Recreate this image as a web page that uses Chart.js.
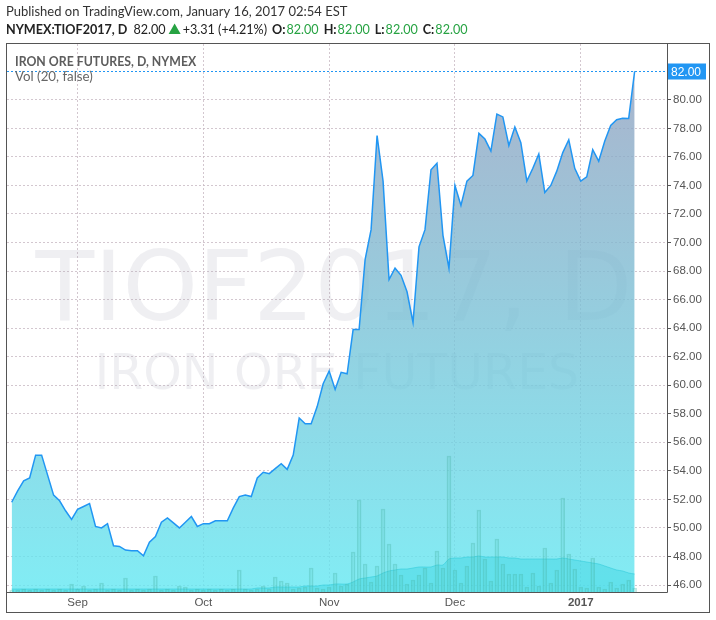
<!DOCTYPE html>
<html>
<head>
<meta charset="utf-8">
<script src="https://cdn.jsdelivr.net/npm/chart.js@4.4.0/dist/chart.umd.min.js"></script>
<style>
  html, body { margin: 0; padding: 0; background: #fff; }
  #wrap { width: 716px; height: 620px; }
</style>
</head>
<body>
<div id="wrap"><canvas id="myChart" width="716" height="620"></canvas></div>
<script>
// daily closes, Aug 17 2016 -> Jan 13 2017 (one value per trading day)
const price = [
  51.8, 52.6, 53.3, 53.5, 55.1, 55.1, 53.7, 52.3, 51.9, 51.2,
  50.6, 51.3, 51.5, 51.7, 50.1, 50.0, 50.3, 48.75, 48.7, 48.45,
  48.4, 48.4, 48.05, 49.0, 49.4, 50.4, 50.7, 50.35, 50.0, 50.4,
  50.8, 50.1, 50.3, 50.3, 50.5, 50.5, 50.5, 51.4, 52.2, 52.3,
  52.2, 53.5, 53.9, 53.8, 54.15, 54.5, 54.1, 55.1, 57.7, 57.3,
  57.3, 58.5, 60.1, 61.0, 59.7, 60.9, 60.8, 63.9, 63.9, 68.8,
  70.9, 77.5, 74.3, 67.4, 68.2, 67.7, 66.55, 64.4, 69.7, 70.9,
  75.1, 75.55, 70.5, 68.2, 74.0, 72.6, 74.3, 74.7, 77.65, 77.25,
  76.4, 79.0, 78.8, 76.8, 78.1, 77.0, 74.3, 75.2, 76.2, 73.5,
  74.0, 75.0, 76.3, 77.2, 75.2, 74.3, 74.6, 76.5, 75.7, 77.1,
  78.2, 78.6, 78.7, 78.69, 82.0
];

const volume = [
  2, 2, 3, 2, 3, 2, 3, 2, 3, 2,
  8, 3, 6, 2, 3, 9, 2, 3, 2, 14,
  2, 3, 2, 3, 16, 2, 3, 2, 6, 5,
  2, 3, 2, 3, 2, 3, 2, 3, 22, 3,
  2, 3, 6, 3, 15, 11, 9, 3, 4, 5,
  24, 4, 3, 5, 19, 6, 8, 40, 92, 28,
  10, 26, 83, 48, 28, 17, 8, 12, 17, 24,
  9, 41, 24, 136, 22, 9, 26, 49, 82, 33,
  11, 53, 28, 18, 18, 18, 5, 19, 6, 44,
  9, 22, 94, 38, 23, 5, 4, 34, 5, 3,
  10, 4, 8, 12, 4
];

// Vol (20) moving average
const volumeMA = [
  3, 3, 3, 3, 3, 3, 3, 3, 3, 3,
  3, 3, 3, 3, 3, 3, 3, 3, 3, 3,
  3, 3, 3, 3, 3, 3, 3, 3, 3, 3,
  3, 3, 3, 3, 3, 3, 3, 3, 3, 3,
  3, 4, 4, 4, 5, 5, 5, 5, 5, 6,
  6, 6, 7, 7, 8, 8, 8, 10, 13, 14,
  15, 16, 19, 21, 22, 23, 23, 24, 25, 25,
  25, 27, 27, 33, 34, 34, 35, 35, 36, 35,
  35, 35, 35, 34, 34, 33, 33, 33, 33, 33,
  33, 33, 34, 33, 32, 31, 30, 29, 28, 26,
  24, 22, 21, 19, 18
];

const monthTickIndex = [11, 32, 53, 74, 95];
const monthLabels = ['Sep', 'Oct', 'Nov', 'Dec', '2017'];
const priceTicks = [46, 48, 50, 52, 54, 56, 58, 60, 62, 64, 66, 68, 70, 72, 74, 76, 78, 80, 82];

const AXIS_FONT = '"Liberation Sans", Arial, sans-serif';
const UI_FONT = 'Lato, "Open Sans", sans-serif';
const GREEN = '#27a343';
const BLUE = '#2196f3';

Chart.defaults.font.family = AXIS_FONT;

const watermark = {
  id: 'watermark',
  beforeDatasetsDraw(chart) {
    const { ctx, chartArea: a } = chart;
    const cx = (a.left + a.right) / 2;
    ctx.save();
    ctx.beginPath();
    ctx.rect(a.left, a.top, a.right - a.left, a.bottom - a.top);
    ctx.clip();
    ctx.fillStyle = 'rgba(160,160,175,0.17)';
    ctx.textAlign = 'center';
    ctx.textBaseline = 'alphabetic';
    ctx.font = '96px "DejaVu Sans"';
    ctx.fillText('TIOF2017, D', cx - 3, 320);
    ctx.font = '49px "DejaVu Sans"';
    ctx.fillText('IRON ORE FUTURES', cx, 389);
    ctx.restore();
  }
};

const overlay = {
  id: 'overlay',
  afterDraw(chart) {
    const { ctx, chartArea: a, scales } = chart;
    const y = scales.y;
    ctx.save();

    // last price marker
    const last = price[price.length - 1];
    const py = Math.round(y.getPixelForValue(last)) + 0.5;
    ctx.strokeStyle = BLUE;
    ctx.lineWidth = 1;
    ctx.setLineDash([2, 2]);
    ctx.beginPath();
    ctx.moveTo(a.left, py);
    ctx.lineTo(a.right, py);
    ctx.stroke();
    ctx.setLineDash([]);
    ctx.fillStyle = BLUE;
    ctx.fillRect(a.right + 1, py - 8, 38, 16);
    ctx.fillStyle = '#fff';
    ctx.font = '12px ' + AXIS_FONT;
    ctx.textAlign = 'left';
    ctx.textBaseline = 'middle';
    ctx.fillText(last.toFixed(2), a.right + 4, py + 1);

    // frame
    ctx.strokeStyle = '#555';
    ctx.lineWidth = 1;
    ctx.strokeRect(6.5, 43.5, 703, 569);
    ctx.beginPath();
    ctx.moveTo(a.right + 0.5, 43.5);
    ctx.lineTo(a.right + 0.5, a.bottom + 0.5);
    ctx.moveTo(6.5, a.bottom + 0.5);
    ctx.lineTo(a.right + 0.5, a.bottom + 0.5);
    ctx.stroke();

    // inner labels
    ctx.textBaseline = 'alphabetic';
    ctx.fillStyle = '#5d5d5d';
    ctx.font = 'bold 12.3px ' + UI_FONT;
    ctx.fillText('IRON ORE FUTURES, D, NYMEX', 15, 66);
    ctx.font = '13.3px ' + UI_FONT;
    ctx.fillStyle = '#666';
    ctx.fillText('Vol (20, false)', 15, 81);

    // header
    ctx.fillStyle = '#333';
    ctx.font = '13px ' + UI_FONT;
    ctx.fillText('Published on TradingView.com, January 16, 2017 02:54 EST', 6, 16);

    const base = 34;
    let x = 6;
    const run = (txt, bold, color, gap) => {
      ctx.font = (bold ? 'bold ' : '') + '12.6px ' + UI_FONT;
      ctx.fillStyle = color;
      ctx.fillText(txt, x, base);
      x += ctx.measureText(txt).width + gap;
    };
    run('NYMEX:TIOF2017, D', true, '#222', 6);
    run(last.toFixed(2), false, '#222', 3);
    ctx.fillStyle = GREEN;
    ctx.beginPath();
    ctx.moveTo(x + 6, 23.5);
    ctx.lineTo(x + 12, 34);
    ctx.lineTo(x, 34);
    ctx.closePath();
    ctx.fill();
    x += 14;
    run('+3.31 (+4.21%)', false, '#222', 5);
    ['O:', 'H:', 'L:', 'C:'].forEach(k => {
      run(k, true, '#222', 1);
      run(last.toFixed(2), false, GREEN, 5);
    });

    ctx.restore();
  }
};

const ctx = document.getElementById('myChart');

new Chart(ctx, {
  data: {
    datasets: [
      {
        type: 'line',
        label: 'TIOF2017',
        data: price.map((v, i) => ({ x: i, y: v })),
        borderColor: BLUE,
        borderWidth: 1.5,
        pointRadius: 0,
        tension: 0,
        fill: 'start',
        backgroundColor(c) {
          const a = c.chart.chartArea;
          if (!a) return 'rgba(120,200,220,0.8)';
          const g = c.chart.ctx.createLinearGradient(0, a.top, 0, a.bottom);
          g.addColorStop(0, 'rgba(150,158,190,0.8)');
          g.addColorStop(0.45, 'rgba(125,190,212,0.8)');
          g.addColorStop(1, 'rgba(98,232,242,0.8)');
          return g;
        },
        yAxisID: 'y',
        order: 3
      },
      {
        type: 'line',
        label: 'Vol MA',
        data: volumeMA.map((v, i) => ({ x: i, y: v })),
        borderColor: 'rgba(40,200,215,0.5)',
        borderWidth: 1,
        pointRadius: 0,
        tension: 0.3,
        fill: 'start',
        backgroundColor: 'rgba(40,205,222,0.35)',
        yAxisID: 'yv',
        order: 2
      },
      {
        type: 'bar',
        label: 'Vol',
        data: volume.map((v, i) => ({ x: i, y: v })),
        backgroundColor: 'rgba(80,195,180,0.1)',
        borderColor: 'rgba(70,175,160,0.33)',
        borderWidth: 1,
        barThickness: 4,
        yAxisID: 'yv',
        order: 1
      }
    ]
  },
  options: {
    responsive: false,
    animation: false,
    devicePixelRatio: 1,
    layout: { padding: { left: 7, top: 44, right: 7, bottom: 7 } },
    plugins: { legend: { display: false }, tooltip: { enabled: false } },
    scales: {
      x: {
        type: 'linear',
        min: -0.78,
        max: 109.4,
        offset: false,
        afterBuildTicks(scale) {
          scale.ticks = monthTickIndex.map(v => ({ value: v }));
        },
        afterFit(scale) { scale.height = 21; },
        ticks: {
          autoSkip: false,
          maxRotation: 0,
          padding: 4,
          color: '#555',
          font(c) {
            return { size: 11.5, weight: c.tick && c.tick.label === '2017' ? 'bold' : 'normal' };
          },
          callback: (v, i) => monthLabels[i]
        },
        grid: { color: 'rgba(200,185,195,0.8)', drawTicks: false, offset: false },
        border: { display: false, dash: [2, 2] }
      },
      y: {
        position: 'right',
        min: 45.51,
        max: 83.91,
        afterBuildTicks(scale) {
          scale.ticks = priceTicks.map(v => ({ value: v }));
        },
        afterFit(scale) { scale.width = 42; },
        ticks: {
          color: '#555',
          padding: 2,
          font: { size: 11.5 },
          callback: v => (v === price[price.length - 1] ? '' : v.toFixed(2))
        },
        grid: { color: 'rgba(200,185,195,0.8)', tickLength: 4, tickColor: '#555' },
        border: { display: false, dash: [2, 2] }
      },
      yv: {
        display: false,
        min: 0,
        max: 548
      }
    }
  },
  plugins: [watermark, overlay]
});
</script>
</body>
</html>
